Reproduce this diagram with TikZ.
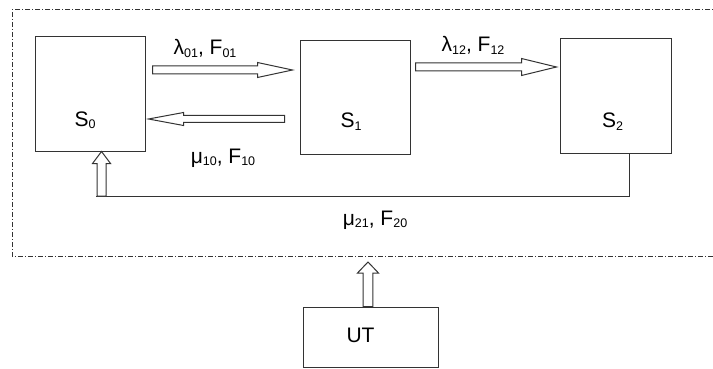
\documentclass[tikz,border=0pt]{standalone}
\usepackage{fontspec}
\setmainfont{Liberation Sans}
\usetikzlibrary{calc}
\definecolor{ln}{HTML}{333333}
\newcommand\sbs[1]{\raisebox{-2.5pt}{\fontsize{12.5}{13}\selectfont #1}}
\tikzset{
  box/.style={draw=ln, line width=1pt, minimum width=#1, inner sep=0pt},
  lbl/.style={font=\fontsize{21}{24}\selectfont, inner sep=0pt, anchor=base},
  frame/.style={draw=ln, line width=1pt, dash pattern=on 5pt off 2pt on 1pt off 2pt},
  arrowline/.style={draw=ln, line width=1pt, fill=white, line join=miter},
  plainline/.style={draw=ln, line width=1pt}
}
% block arrow from #1 to #2 ; half shaft #3, half head #4, head length #5
\newcommand\blkarrow[5]{%
  \draw[arrowline] let \p1=(#1), \p2=(#2),
     \n1={atan2(\y2-\y1,\x2-\x1)}, \n2={veclen(\x2-\x1,\y2-\y1)} in
     [shift={(\p1)}, rotate=\n1]
     (0pt,-#3) -- ({\n2-#5},-#3) -- ({\n2-#5},-#4) -- (\n2,0pt)
     -- ({\n2-#5},#4) -- ({\n2-#5},#3) -- (0pt,#3) -- cycle;}
\begin{document}
\begin{tikzpicture}[x=1pt,y=-1pt]
\useasboundingbox (0,0) rectangle (713,369);
% frame
\draw[frame] (730,10) -- (12,10) -- (12,256) -- (730,256);
% boxes
\node[box=110pt, minimum height=114pt] (s0) at (90,94) {};
\node[box=110pt, minimum height=113pt] (s1) at (355,97.5) {};
\node[box=111pt, minimum height=114pt] (s2) at (615.5,96) {};
\node[box=135pt, minimum height=60pt] (ut) at (370.5,337) {};
\node[lbl] (s0t) at (85,126) {S\sbs{0}};
\node[lbl] (s1t) at (351,128) {S\sbs{1}};
\node[lbl] (s2t) at (612.5,128) {S\sbs{2}};
\node[lbl] (utt) at (360.5,342) {UT};
% arrow end points
\coordinate (a01s) at ($(s0.east|-0,70)+(7,0)$);
\coordinate (a01e) at ($(s1.west|-0,70)+(-7,0)$);
\coordinate (a10s) at ($(s1.west|-0,119)+(-15,0)$);
\coordinate (a10e) at ($(s0.east|-0,119)+(3,0)$);
\coordinate (a12s) at ($(s1.east|-0,67)+(5,0)$);
\coordinate (a12e) at ($(s2.west|-0,67)+(-3,0)$);
\coordinate (fb) at (s2.south-|629,0);
\coordinate (fbc) at (629,196);
\coordinate (fbl) at (101.5,196);
\coordinate (utop) at (ut.north-|368,0);
\coordinate (uend) at (368,262);
\blkarrow{a01s}{a01e}{4pt}{7.5pt}{35pt}
\blkarrow{a10s}{a10e}{3.5pt}{6.5pt}{35pt}
\blkarrow{a12s}{a12e}{4pt}{8.5pt}{35pt}
\draw[plainline] (fb) -- (fbc) -- (96,196);
\blkarrow{fbl}{s0.south-|101.5,0}{4.5pt}{9pt}{12pt}
\blkarrow{utop}{uend}{4.8pt}{10.5pt}{11pt}
% labels
\node[lbl] (l01) at (205,55) {λ\sbs{01}, F\sbs{01}};
\node[lbl] (l10) at (223,163) {μ\sbs{10}, F\sbs{10}};
\node[lbl] (l12) at (473,52) {λ\sbs{12}, F\sbs{12}};
\node[lbl] (l21) at (375,225) {μ\sbs{21}, F\sbs{20}};
\end{tikzpicture}
\end{document}
